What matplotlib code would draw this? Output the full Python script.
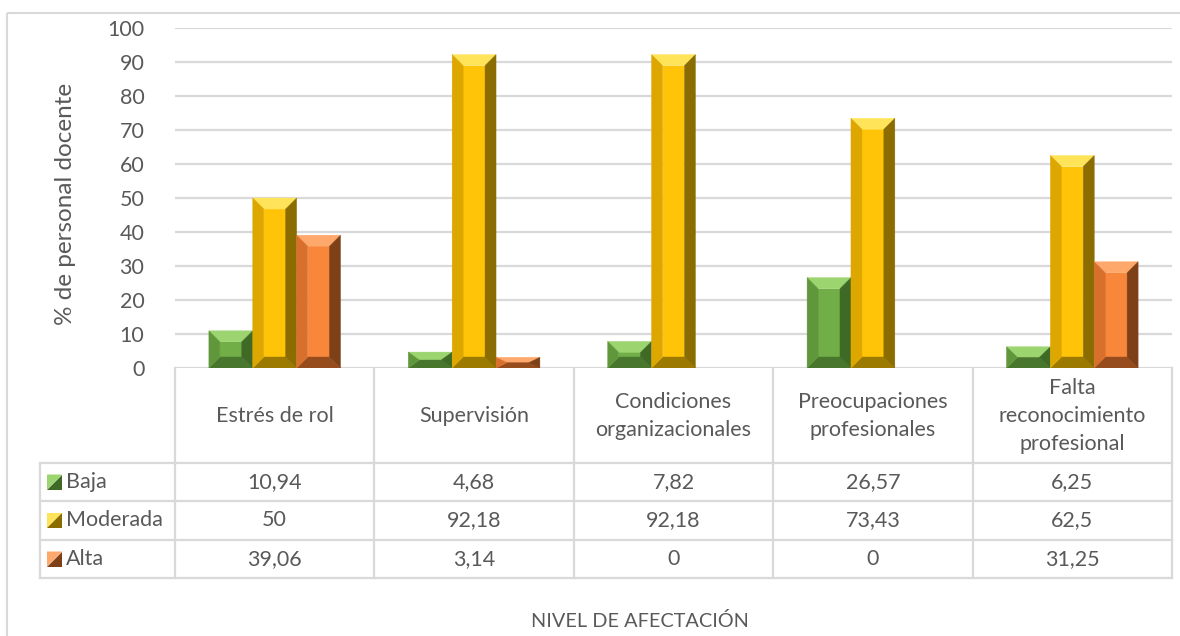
import matplotlib
matplotlib.use("Agg")
import matplotlib.pyplot as plt
from matplotlib.patches import Polygon, Rectangle

# ---- data ----
categories = ["Estrés de rol", "Supervisión", "Condiciones\norganizacionales",
              "Preocupaciones\nprofesionales", "Falta\nreconocimiento\nprofesional"]
series_names = ["Baja", "Moderada", "Alta"]
baja = [10.94, 4.68, 7.82, 26.57, 6.25]
moderada = [50, 92.18, 92.18, 73.43, 62.5]
alta = [39.06, 3.14, 0, 0, 31.25]
value_labels = [["10,94", "4,68", "7,82", "26,57", "6,25"],
                ["50", "92,18", "92,18", "73,43", "62,5"],
                ["39,06", "3,14", "0", "0", "31,25"]]
y_ticks = [0, 10, 20, 30, 40, 50, 60, 70, 80, 90, 100]
y_title = "% de personal docente"
x_title = "NIVEL DE AFECTACIÓN"

# bevel shades per series: front, top, left, right, bottom
shades = [
    dict(front="#72AE48", top="#9CD46F", left="#5F973A", right="#3E6A26", bottom="#48762C"),
    dict(front="#FFC408", top="#FFE45A", left="#DDA700", right="#8A6C00", bottom="#9C7A00"),
    dict(front="#F8873C", top="#FFA86B", left="#D86F2B", right="#7E4016", bottom="#964C1C"),
]

W, H, DPI = 1180, 636, 100
TEXT = "#595959"
GRID = "#D9D9D9"
FONT = "Lato"
FS = 15.5

fig = plt.figure(figsize=(W / DPI, H / DPI), dpi=DPI)
fig.patch.set_facecolor("white")

# plot area in pixel coordinates
L, R, T, B = 175, 1172, 28, 368
ax = fig.add_axes([L / W, 1 - B / H, (R - L) / W, (B - T) / H])
n = len(categories)
ax.set_xlim(0, n)
ax.set_ylim(0, 100)
ax.set_yticks(y_ticks)
ax.set_xticks([])
for s in ax.spines.values():
    s.set_visible(False)
ax.tick_params(axis="y", length=0, pad=22, labelsize=FS, labelcolor=TEXT)
for lab in ax.get_yticklabels():
    lab.set_fontfamily(FONT)
ax.grid(axis="y", color=GRID, lw=1.6)
ax.set_axisbelow(True)

px_x = (R - L) / n      # pixels per x unit
px_y = (B - T) / 100.0  # pixels per y unit
bevel = 11.0            # bevel size in pixels
bw = 0.22

def bevel_bar(xc, h, sh):
    if h <= 0:
        return
    x0, x1 = xc - bw / 2, xc + bw / 2
    bx = bevel / px_x
    by = min(bevel, h * px_y / 2) / px_y
    faces = [
        ("front", [(x0 + bx, by), (x1 - bx, by), (x1 - bx, h - by), (x0 + bx, h - by)]),
        ("top", [(x0, h), (x1, h), (x1 - bx, h - by), (x0 + bx, h - by)]),
        ("bottom", [(x0, 0), (x1, 0), (x1 - bx, by), (x0 + bx, by)]),
        ("left", [(x0, 0), (x0 + bx, by), (x0 + bx, h - by), (x0, h)]),
        ("right", [(x1, 0), (x1 - bx, by), (x1 - bx, h - by), (x1, h)]),
    ]
    for key, pts in faces:
        ax.add_patch(Polygon(pts, closed=True, facecolor=sh[key],
                             edgecolor=sh[key], lw=0.3, zorder=3))

for si, vals in enumerate([baja, moderada, alta]):
    for ci, v in enumerate(vals):
        bevel_bar(ci + 0.5 + (si - 1) * bw, v, shades[si])

# overlay in pixel coordinates for table, titles and frame
ov = fig.add_axes([0, 0, 1, 1], zorder=5)
ov.set_xlim(0, W)
ov.set_ylim(H, 0)
ov.axis("off")
ov.patch.set_alpha(0)

# outer frame
ov.add_patch(Rectangle((7, 13), W + 10, H + 10, fill=False, ec=GRID, lw=1.5))

# data table
cols = [L + i * (R - L) / n for i in range(n + 1)]
rows = [463, 501, 540, 578]
lc = "#D9D9D9"
for x in cols:
    ov.plot([x, x], [B, rows[-1]], color=lc, lw=1.6)
ov.plot([40, 40], [rows[0], rows[-1]], color=lc, lw=1.6)
for y in rows:
    ov.plot([40, R], [y, y], color=lc, lw=1.6)

for ci, cat in enumerate(categories):
    cx = (cols[ci] + cols[ci + 1]) / 2
    ov.text(cx, (B + rows[0]) / 2 + 1, cat, ha="center", va="center",
            fontsize=FS, color=TEXT, family=FONT, linespacing=1.5)

for ri in range(3):
    cy = (rows[ri] + rows[ri + 1]) / 2
    for ci in range(n):
        cx = (cols[ci] + cols[ci + 1]) / 2
        ov.text(cx, cy, value_labels[ri][ci], ha="center", va="center",
                fontsize=FS, color=TEXT, family=FONT)
    # legend key: split diagonally into light and dark halves
    kx, ky, ks = 47, cy - 7.5, 15
    sh = shades[ri]
    ov.add_patch(Polygon([(kx, ky), (kx + ks, ky), (kx, ky + ks)],
                         facecolor=sh["top"], edgecolor="none"))
    ov.add_patch(Polygon([(kx + ks, ky), (kx + ks, ky + ks), (kx, ky + ks)],
                         facecolor=sh["right"], edgecolor="none"))
    ov.text(66, cy, series_names[ri], ha="left", va="center",
            fontsize=FS, color=TEXT, family=FONT)

# axis titles
ov.text(66, (T + B) / 2 + 6, y_title, rotation=90, ha="center", va="center",
        fontsize=17.5, color=TEXT, family=FONT)
ov.text(640, 621, x_title, ha="center", va="center",
        fontsize=14.3, color=TEXT, family=FONT)

fig.savefig("out.png", dpi=DPI, facecolor="white")
